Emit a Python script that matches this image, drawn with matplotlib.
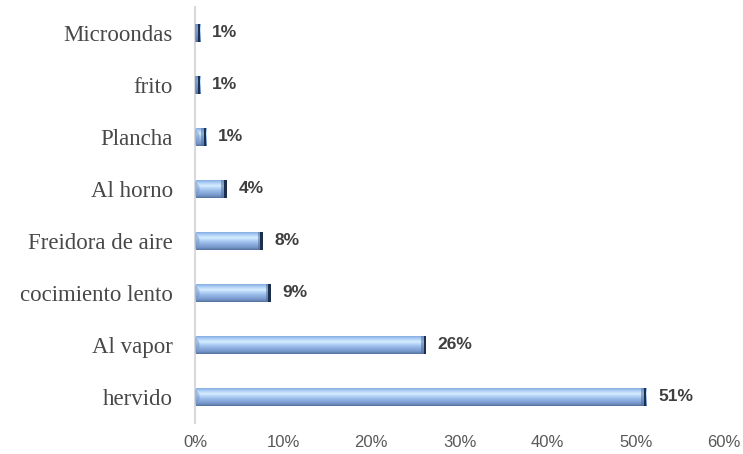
#!/usr/bin/env python3
"""Horizontal bar chart of cooking methods with bevelled Excel-style bars."""

import matplotlib.pyplot as plt
import numpy as np
from matplotlib.colors import LinearSegmentedColormap
from matplotlib.patches import Polygon

# Share of responses per cooking method (percent), bottom to top
METHODS = [
    "hervido",
    "Al vapor",
    "cocimiento lento",
    "Freidora de aire",
    "Al horno",
    "Plancha",
    "frito",
    "Microondas",
]
SHARES = [51.2, 26.2, 8.6, 7.7, 3.6, 1.3, 0.6, 0.6]
X_TICKS = [0, 10, 20, 30, 40, 50, 60]

LABEL_COLOR = "#484848"
VALUE_COLOR = "#3f3f3f"
TICK_COLOR = "#595959"
AXIS_COLOR = "#d9d9d9"
CAP_COLOR = "#1c2f4d"

# vertical shading of a bar, top edge to bottom edge
BAR_CMAP = LinearSegmentedColormap.from_list(
    "bevel",
    [
        (0.00, "#86acdf"),
        (0.12, "#a8cbf5"),
        (0.32, "#d6eeff"),
        (0.45, "#b4d3f8"),
        (0.62, "#95b7e6"),
        (0.85, "#7798cb"),
        (1.00, "#56739f"),
    ],
)


def draw_bar(ax, y, value, height):
    """Gradient-filled bar with a dark bevelled right end."""
    top, bottom = y + height / 2, y - height / 2
    shade = np.linspace(0, 1, 64).reshape(-1, 1)
    ax.imshow(
        shade,
        cmap=BAR_CMAP,
        extent=(0, value, bottom, top),
        origin="upper",
        aspect="auto",
        interpolation="bilinear",
        zorder=2,
    )
    bevel = min(0.6, value)
    dark = min(0.28, value)
    # sloped face leading into the end cap
    ax.add_patch(
        Polygon(
            [(value - bevel, top), (value, top), (value, bottom), (value - bevel, bottom)],
            closed=True,
            facecolor="#4d6a98",
            edgecolor="none",
            alpha=0.5,
            zorder=3,
        )
    )
    ax.add_patch(
        Polygon(
            [(value - dark, top), (value, top), (value, bottom), (value - dark, bottom)],
            closed=True,
            facecolor=CAP_COLOR,
            edgecolor="none",
            zorder=4,
        )
    )
    # softer bevel on the left end
    lb = min(0.5, value / 2)
    ax.add_patch(
        Polygon(
            [(0, top), (lb, y + height * 0.15), (lb, y - height * 0.15), (0, bottom)],
            closed=True,
            facecolor="#6f8fc2",
            edgecolor="none",
            alpha=0.45,
            zorder=3,
        )
    )


fig = plt.figure(figsize=(7.43, 4.54), dpi=100)
ax = fig.add_axes([0.2625, 0.0683, 0.9744 - 0.2625, 0.9846 - 0.0683])

positions = np.arange(len(METHODS))
bar_height = 0.33
for pos, share in zip(positions, SHARES):
    draw_bar(ax, pos, share, bar_height)
    ax.annotate(
        f"{share:.0f}%",
        xy=(share, pos),
        xytext=(8.5, 0),
        textcoords="offset points",
        va="center",
        ha="left",
        fontsize=12.5,
        fontfamily="Liberation Sans",
        color=VALUE_COLOR,
        fontweight="semibold",
    )

ax.set_xlim(0, 60)
ax.set_ylim(-0.5, len(METHODS) - 0.5)
ax.set_xticks(X_TICKS)
ax.set_xticklabels([f"{t}%" for t in X_TICKS], fontfamily="Liberation Sans", fontsize=12, color=TICK_COLOR)
ax.set_yticks(positions)
ax.set_yticklabels(METHODS, fontfamily="Liberation Serif", fontsize=16.5, color=LABEL_COLOR)
ax.tick_params(axis="both", length=0)
ax.tick_params(axis="y", pad=16)
ax.tick_params(axis="x", pad=9)

for side in ("top", "right", "bottom"):
    ax.spines[side].set_visible(False)
ax.spines["left"].set_color(AXIS_COLOR)
ax.spines["left"].set_linewidth(1.5)

fig.savefig("out.png", dpi=100, facecolor="white")
